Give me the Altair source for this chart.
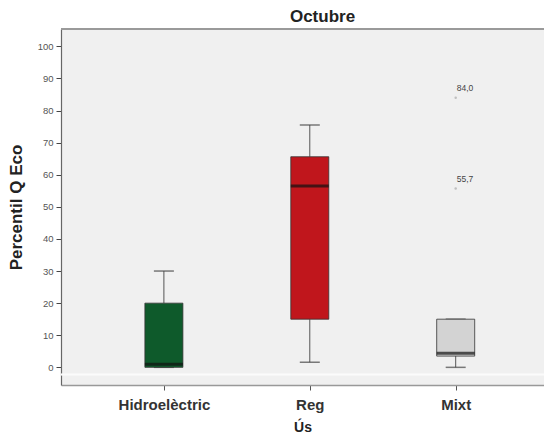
import json
import altair as alt
import pandas as pd

categories = ["Hidroelèctric", "Reg", "Mixt"]
positions = [1, 2, 3]
whisker_low = [0.0, 1.6, 0.0]
q1 = [0.0, 15.0, 3.5]
median = [1.0, 56.5, 4.4]
q3 = [20.0, 65.6, 15.0]
whisker_high = [30.0, 75.5, 15.0]
box_colors = ["#0e5a2b", "#c0161c", "#d3d3d3"]

outlier_pos = [3, 3]
outlier_vals = [84.0, 55.7]
outlier_labels = ["84,0", "55,7"]

y_ticks = list(range(0, 101, 10))

df = pd.DataFrame({
    "cat": categories, "pos": positions, "low": whisker_low, "q1": q1,
    "med": median, "q3": q3, "high": whisker_high, "color": box_colors,
})
out = pd.DataFrame({"pos": outlier_pos, "val": outlier_vals, "lab": outlier_labels})

FONT = "Liberation Sans"
label_expr = "(" + json.dumps([""] + categories) + ")[datum.value]"

xscale = alt.Scale(domain=[0.329, 3.571], nice=False, zero=False)
yscale = alt.Scale(domain=[-5.5, 105.4], nice=False, zero=False)

xaxis = alt.Axis(values=positions, labelExpr=label_expr, title="Ús", grid=False,
                 labelFont=FONT, labelFontSize=15, labelFontWeight="bold", labelColor="#333",
                 labelPadding=7, tickColor="#555", tickSize=5,
                 domainColor="#999", domainWidth=1.5,
                 titleFont=FONT, titleFontSize=14, titleFontWeight="bold", titleColor="#222",
                 titlePadding=8)
yaxis = alt.Axis(values=y_ticks, tickCount=11, title="Percentil Q Eco", grid=False, labelOverlap=False,
                 labelFont=FONT, labelFontSize=9.5, labelColor="#555", labelPadding=3,
                 tickColor="#444", tickSize=5, domainColor="#666", domainWidth=1.2,
                 titleFont=FONT, titleFontSize=17, titleFontWeight="bold", titleColor="#222",
                 titleX=-36)


def X(f="pos"):
    return alt.X(f"{f}:Q", scale=xscale, axis=xaxis)


def Y(f):
    return alt.Y(f"{f}:Q", scale=yscale, axis=yaxis)


base = alt.Chart(df)

whisk_lo = base.mark_rule(color="#555", strokeWidth=1).encode(x=X(), y=Y("low"), y2="q1:Q")
whisk_hi = base.mark_rule(color="#555", strokeWidth=1).encode(x=X(), y=Y("q3"), y2="high:Q")
cap_lo = base.mark_tick(orient="horizontal", size=20, thickness=1.5, color="#444").encode(x=X(), y=Y("low"))
cap_hi = base.mark_tick(orient="horizontal", size=20, thickness=1.5, color="#444").encode(x=X(), y=Y("high"))
boxes = base.mark_bar(size=38, stroke="#333", strokeWidth=0.8).encode(
    x=X(), y=Y("q1"), y2="q3:Q", color=alt.Color("color:N", scale=None))
meds = base.mark_tick(orient="horizontal", size=38, thickness=3, color="#111").encode(x=X(), y=Y("med"))

ob = alt.Chart(out)
pts = ob.mark_point(shape="circle", size=6, color="#aaa", filled=True).encode(x=X(), y=Y("val"))
labs = ob.mark_text(align="left", dx=1, dy=-10, font=FONT, fontSize=8.5, color="#444").encode(
    x=X(), y=Y("val"), text="lab:N")

top_line = alt.Chart(df).mark_rule(color="#999", strokeWidth=1.5).encode(
    x=alt.value(0), x2=alt.value(483), y=alt.value(0))
low_line = alt.Chart(df).mark_rule(color="#fbfbfb", strokeWidth=1.5).encode(
    x=alt.value(0), x2=alt.value(483), y=alt.datum(-2.2, scale=yscale, axis=yaxis))

chart = alt.layer(low_line, top_line, whisk_lo, whisk_hi, cap_lo, cap_hi, boxes, meds, pts, labs).properties(
    width=483, height=356,
    title=alt.TitleParams("Octubre", font=FONT, fontSize=17, fontWeight="bold", color="#222",
                          dx=20, offset=2),
    autosize=alt.AutoSizeParams(type="none"),
    padding={"left": 53, "top": 21, "right": 0, "bottom": 51},
    background="white",
).configure_view(fill="#f0f0f0", stroke=None)

chart.save("out.html", embed_options={"renderer": "svg", "actions": False})
